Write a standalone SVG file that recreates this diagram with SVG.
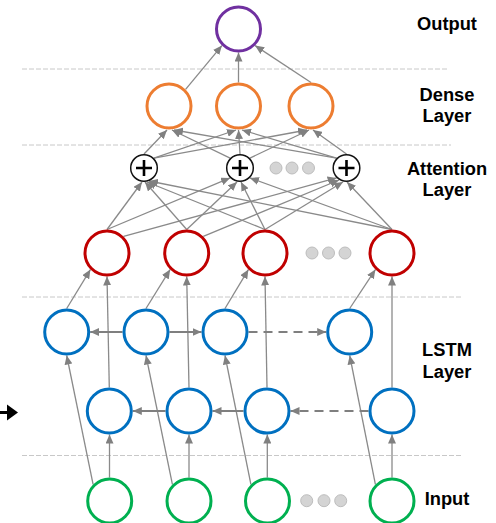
<svg xmlns="http://www.w3.org/2000/svg" width="496" height="523" viewBox="0 0 496 523">
  <style>
    .sep { stroke: #c8c8c8; stroke-width: 1; stroke-dasharray: 5 2; fill: none; }
    .node { fill: #ffffff; stroke-width: 3; }
    .out { stroke: #7030a0; }
    .dense { stroke: #ed7d31; }
    .att { stroke: #c00000; }
    .lstm { stroke: #0070c0; }
    .inp { stroke: #00b050; }
    .plus { fill: #ffffff; stroke: #111111; stroke-width: 1.5; }
    .plusmark { stroke: #000000; stroke-width: 2.6; fill: none; }
    .dot { fill: #d4d4d4; stroke: #bdbdbd; stroke-width: 1; }
    .edge { stroke: #8a8a8a; stroke-width: 1.3; fill: none; marker-end: url(#arr); }
    .rec { stroke: #7f7f7f; stroke-width: 2; fill: none; marker-end: url(#arr); }
    .dash { stroke-dasharray: 9 6; }
    .label { font-family: "Liberation Sans", Arial, sans-serif; font-weight: bold; font-size: 18.3px; fill: #000000; text-anchor: middle; }
  </style>
  <defs>
    <marker id="arr" markerUnits="userSpaceOnUse" markerWidth="10" markerHeight="8" refX="9" refY="4" orient="auto">
      <path d="M0,0 L9,4 L0,8 z" fill="#808080"/>
    </marker>
  </defs>

  <!-- layer separators -->
  <g id="separators">
    <line class="sep" x1="22" y1="69" x2="448" y2="69"/>
    <line class="sep" x1="22" y1="145" x2="451" y2="145"/>
    <line class="sep" x1="22" y1="297" x2="462" y2="297"/>
    <line class="sep" x1="22" y1="455.5" x2="462" y2="455.5"/>
  </g>

  <!-- connectors -->
  <g id="connectors">
    <!-- dense to output -->
    <line class="edge" x1="185.6" y1="89.4" x2="221.9" y2="45.6"/>
    <line class="edge" x1="238.5" y1="82.5" x2="238.5" y2="52.5"/>
    <line class="edge" x1="311" y1="82.5" x2="255.1" y2="45.6"/>

    <!-- attention to dense -->
    <line class="edge" x1="144" y1="154" x2="167" y2="130"/>
    <line class="edge" x1="153.9" y1="158.1" x2="236" y2="130"/>
    <line class="edge" x1="153.9" y1="158.1" x2="307" y2="130"/>
    <line class="edge" x1="230.1" y1="158.1" x2="172" y2="130"/>
    <line class="edge" x1="240" y1="154" x2="238.5" y2="130"/>
    <line class="edge" x1="249.9" y1="158.1" x2="309" y2="130"/>
    <line class="edge" x1="336.6" y1="158.1" x2="174" y2="130"/>
    <line class="edge" x1="336.6" y1="158.1" x2="242" y2="130"/>
    <line class="edge" x1="346.5" y1="154" x2="313" y2="130"/>

    <!-- lstm outputs to attention -->
    <line class="edge" x1="107" y1="229.5" x2="142" y2="182"/>
    <line class="edge" x1="107" y1="229.5" x2="230.1" y2="177.9"/>
    <line class="edge" x1="123.6" y1="236.4" x2="336.6" y2="177.9"/>
    <line class="edge" x1="186.7" y1="229.5" x2="145" y2="182"/>
    <line class="edge" x1="186.7" y1="229.5" x2="237" y2="182"/>
    <line class="edge" x1="203.3" y1="236.4" x2="339" y2="180"/>
    <line class="edge" x1="265" y1="229.5" x2="147" y2="182"/>
    <line class="edge" x1="265" y1="229.5" x2="241" y2="182"/>
    <line class="edge" x1="265" y1="229.5" x2="343" y2="182"/>
    <line class="edge" x1="392" y1="229.5" x2="149" y2="181"/>
    <line class="edge" x1="392" y1="229.5" x2="249.9" y2="177.9"/>
    <line class="edge" x1="392" y1="229.5" x2="347" y2="182"/>

    <!-- upper lstm to merged outputs -->
    <line class="edge" x1="66.7" y1="308.5" x2="90.4" y2="269.6"/>
    <line class="edge" x1="146" y1="308.5" x2="170.1" y2="269.6"/>
    <line class="edge" x1="225" y1="308.5" x2="248.4" y2="269.6"/>
    <line class="edge" x1="349.7" y1="308.5" x2="375.4" y2="269.6"/>

    <!-- lower lstm to merged outputs -->
    <line class="edge" x1="109.3" y1="387.5" x2="107" y2="276.5"/>
    <line class="edge" x1="189" y1="387.5" x2="186.7" y2="276.5"/>
    <line class="edge" x1="267" y1="387.5" x2="265" y2="276.5"/>
    <line class="edge" x1="392" y1="387.5" x2="392" y2="276.5"/>

    <!-- inputs to lower lstm -->
    <line class="edge" x1="109.5" y1="477.5" x2="109.5" y2="434.5"/>
    <line class="edge" x1="189" y1="477.5" x2="189" y2="434.5"/>
    <line class="edge" x1="267.3" y1="477.5" x2="267.3" y2="434.5"/>
    <line class="edge" x1="392" y1="477.5" x2="392" y2="434.5"/>

    <!-- inputs to upper lstm -->
    <line class="edge" x1="93.1" y1="484.4" x2="66.7" y2="355.5"/>
    <line class="edge" x1="172.4" y1="484.4" x2="146" y2="355.5"/>
    <line class="edge" x1="250.9" y1="484.4" x2="225" y2="355.5"/>
    <line class="edge" x1="375.4" y1="484.4" x2="349.7" y2="355.5"/>

    <!-- recurrent links, upper row -->
    <line class="rec" x1="122.5" y1="332" x2="90.2" y2="332"/>
    <line class="rec" x1="169.5" y1="332" x2="201.5" y2="332"/>
    <line class="rec dash" x1="248.5" y1="332" x2="326.2" y2="332"/>

    <!-- recurrent links, lower row -->
    <line class="rec" x1="165.5" y1="411" x2="132.8" y2="411"/>
    <line class="rec" x1="243.5" y1="411" x2="212.5" y2="411"/>
    <line class="rec dash" x1="368.5" y1="411" x2="290.5" y2="411"/>
  </g>

  <!-- output -->
  <g id="output"><circle class="node out" cx="238.5" cy="29" r="22"/></g>

  <!-- dense layer -->
  <g id="dense1"><circle class="node dense" cx="169" cy="106" r="22"/></g>
  <g id="dense2"><circle class="node dense" cx="238.5" cy="106" r="22"/></g>
  <g id="dense3"><circle class="node dense" cx="311" cy="106" r="22"/></g>

  <!-- attention sums -->
  <g id="sum1"><circle class="plus" cx="144" cy="168" r="13.3"/><path class="plusmark" d="M136,168 H152 M144,160 V176"/></g>
  <g id="sum2"><circle class="plus" cx="240" cy="168" r="13.3"/><path class="plusmark" d="M232,168 H248 M240,160 V176"/></g>
  <g id="sum3"><circle class="plus" cx="346.5" cy="168" r="13.3"/><path class="plusmark" d="M338.5,168 H354.5 M346.5,160 V176"/></g>
  <g id="sum-more">
    <circle class="dot" cx="276" cy="168" r="6"/>
    <circle class="dot" cx="292" cy="168" r="6"/>
    <circle class="dot" cx="308.5" cy="168" r="6"/>
  </g>

  <!-- merged lstm outputs -->
  <g id="merge1"><circle class="node att" cx="107" cy="253" r="22"/></g>
  <g id="merge2"><circle class="node att" cx="186.7" cy="253" r="22"/></g>
  <g id="merge3"><circle class="node att" cx="265" cy="253" r="22"/></g>
  <g id="merge4"><circle class="node att" cx="392" cy="253" r="22"/></g>
  <g id="merge-more">
    <circle class="dot" cx="312" cy="253" r="6"/>
    <circle class="dot" cx="328.5" cy="253" r="6"/>
    <circle class="dot" cx="345" cy="253" r="6"/>
  </g>

  <!-- lstm, upper row -->
  <g id="lstm-up1"><circle class="node lstm" cx="66.7" cy="332" r="22"/></g>
  <g id="lstm-up2"><circle class="node lstm" cx="146" cy="332" r="22"/></g>
  <g id="lstm-up3"><circle class="node lstm" cx="225" cy="332" r="22"/></g>
  <g id="lstm-up4"><circle class="node lstm" cx="349.7" cy="332" r="22"/></g>

  <!-- lstm, lower row -->
  <g id="lstm-low1"><circle class="node lstm" cx="109.3" cy="411" r="22"/></g>
  <g id="lstm-low2"><circle class="node lstm" cx="189" cy="411" r="22"/></g>
  <g id="lstm-low3"><circle class="node lstm" cx="267" cy="411" r="22"/></g>
  <g id="lstm-low4"><circle class="node lstm" cx="392" cy="411" r="22"/></g>

  <!-- inputs -->
  <g id="input1"><circle class="node inp" cx="109.7" cy="501" r="22"/></g>
  <g id="input2"><circle class="node inp" cx="189" cy="501" r="22"/></g>
  <g id="input3"><circle class="node inp" cx="267.5" cy="501" r="22"/></g>
  <g id="input4"><circle class="node inp" cx="392" cy="501" r="22"/></g>
  <g id="input-more">
    <circle class="dot" cx="306.7" cy="500.7" r="6"/>
    <circle class="dot" cx="324" cy="500.7" r="6"/>
    <circle class="dot" cx="340.7" cy="500.7" r="6"/>
  </g>

  <!-- side pointer -->
  <g id="pointer">
    <line x1="-4" y1="412.5" x2="10" y2="412.5" stroke="#000000" stroke-width="3"/>
    <polygon points="7,404.5 18,412.5 7,420.5" fill="#000000"/>
  </g>

  <!-- layer labels -->
  <g id="labels">
    <text class="label" x="447" y="30">Output</text>
    <text class="label" x="447" y="101">Dense</text>
    <text class="label" x="447" y="122">Layer</text>
    <text class="label" x="447" y="175">Attention</text>
    <text class="label" x="447" y="196">Layer</text>
    <text class="label" x="447" y="356">LSTM</text>
    <text class="label" x="447" y="378">Layer</text>
    <text class="label" x="447" y="505">Input</text>
  </g>
</svg>
